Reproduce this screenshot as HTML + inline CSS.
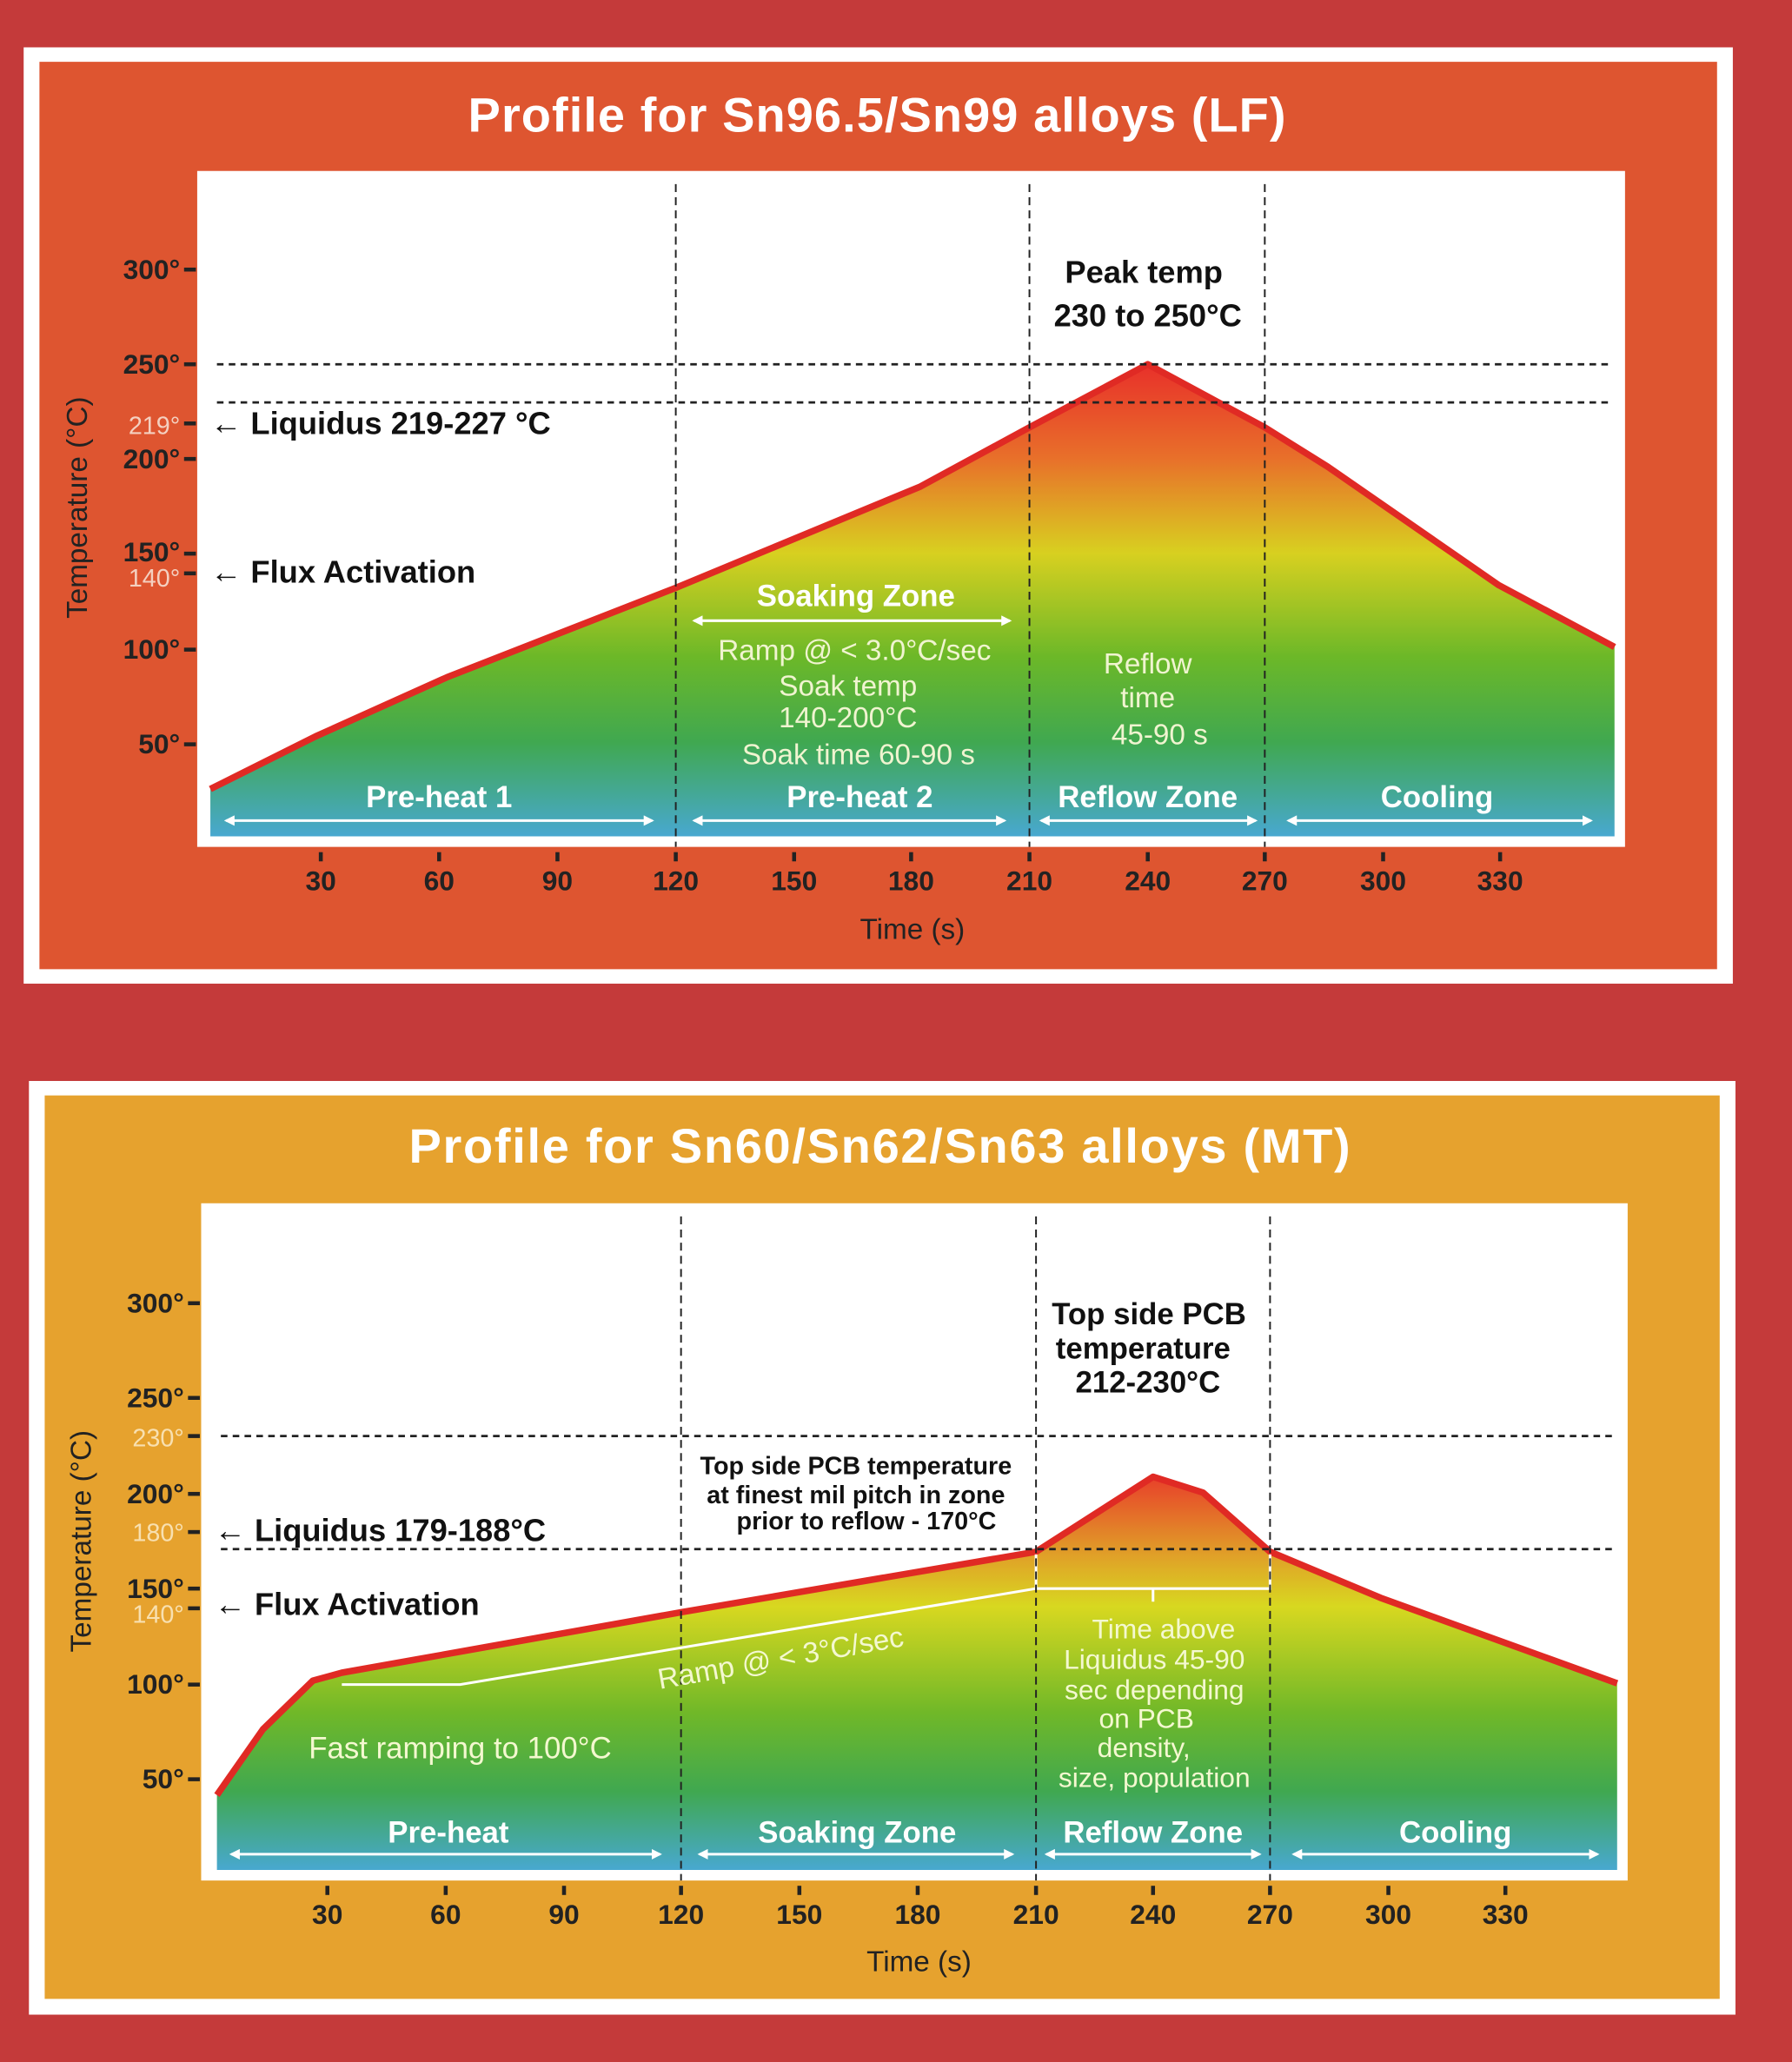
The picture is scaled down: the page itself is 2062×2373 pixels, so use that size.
<!DOCTYPE html>
<html><head><meta charset="utf-8"><style>
html,body{margin:0;padding:0;background:#c43a3a}
svg{display:block}
text{font-family:"Liberation Sans",sans-serif}
</style></head><body>
<svg width="2062" height="2373" viewBox="0 0 1363 1568" preserveAspectRatio="none" xmlns="http://www.w3.org/2000/svg">
<defs>
<linearGradient id="g1" x1="0" y1="277" x2="0" y2="636" gradientUnits="userSpaceOnUse">
<stop offset="0" stop-color="#e8302a"/><stop offset="0.2" stop-color="#e8702a"/><stop offset="0.4" stop-color="#d8d020"/><stop offset="0.62" stop-color="#6cb828"/><stop offset="0.8" stop-color="#40a850"/><stop offset="1" stop-color="#48a8d0"/>
</linearGradient>
<linearGradient id="g2" x1="0" y1="1123" x2="0" y2="1422" gradientUnits="userSpaceOnUse">
<stop offset="0" stop-color="#e8402a"/><stop offset="0.2" stop-color="#e0a028"/><stop offset="0.33" stop-color="#d8d820"/><stop offset="0.6" stop-color="#70b828"/><stop offset="0.8" stop-color="#40a850"/><stop offset="1" stop-color="#48a8d0"/>
</linearGradient>
<marker id="ah" viewBox="0 0 10 10" refX="8" refY="5" markerWidth="4" markerHeight="4" orient="auto-start-reverse"><path d="M0,0L10,5L0,10z" fill="#fff"/></marker>
</defs>
<rect width="1363" height="1568" fill="#c43a3a"/>
<!-- TOP -->
<rect x="18" y="36" width="1300" height="712" fill="#fff"/>
<rect x="30" y="47" width="1276" height="690" fill="#de5530"/>
<text x="667" y="100" text-anchor="middle" font-size="37" font-weight="bold" fill="#fff" textLength="622">Profile for Sn96.5/Sn99 alloys (LF)</text>
<rect x="150" y="130" width="1086" height="514" fill="#fff"/>
<path d="M160,600 L240,560 L340,515 L514,447 L700,370 L783,325 L873,277 L962,325 L1010,355 L1140,445 L1228,492 L1228,636 L160,636Z" fill="url(#g1)"/>
<path d="M160,600 L240,560 L340,515 L514,447 L700,370 L783,325 L873,277 L962,325 L1010,355 L1140,445 L1228,492" fill="none" stroke="#e02a24" stroke-width="5" stroke-linejoin="round"/>
<g stroke="#222" stroke-width="1.8" stroke-dasharray="5,4" fill="none">
<line x1="165" y1="277" x2="1225" y2="277"/><line x1="165" y1="306" x2="1225" y2="306"/>
</g>
<g stroke="#222" stroke-width="1.3" stroke-dasharray="6,4">
<line x1="514" y1="140" x2="514" y2="644"/><line x1="783" y1="140" x2="783" y2="644"/><line x1="962" y1="140" x2="962" y2="644"/>
</g>
<g stroke="#222" stroke-width="3">
<line x1="140" y1="205" x2="149" y2="205"/><line x1="140" y1="277" x2="149" y2="277"/><line x1="140" y1="322" x2="149" y2="322"/><line x1="140" y1="349" x2="149" y2="349"/><line x1="140" y1="421" x2="149" y2="421"/><line x1="140" y1="436" x2="149" y2="436"/><line x1="140" y1="494" x2="149" y2="494"/><line x1="140" y1="566" x2="149" y2="566"/>
</g>
<g font-size="21" fill="#222" text-anchor="end" font-weight="bold">
<text x="137" y="212">300°</text><text x="137" y="284">250°</text><text x="137" y="356">200°</text><text x="137" y="427">150°</text><text x="137" y="501">100°</text><text x="137" y="573">50°</text>
</g>
<g font-size="19" fill="#f4d0c0" text-anchor="end"><text x="137" y="330">219°</text><text x="137" y="446">140°</text></g>
<text transform="translate(66,386) rotate(-90)" text-anchor="middle" font-size="22" fill="#222">Temperature (°C)</text>
<text x="160" y="330" font-size="24" fill="#111" font-weight="bold">←  Liquidus 219-227 °C</text>
<text x="160" y="443" font-size="24" fill="#111" font-weight="bold">←  Flux Activation</text>
<g stroke="#222" stroke-width="3"><line x1="244" y1="648" x2="244" y2="655"/><line x1="334" y1="648" x2="334" y2="655"/><line x1="424" y1="648" x2="424" y2="655"/><line x1="514" y1="648" x2="514" y2="655"/><line x1="604" y1="648" x2="604" y2="655"/><line x1="693" y1="648" x2="693" y2="655"/><line x1="783" y1="648" x2="783" y2="655"/><line x1="873" y1="648" x2="873" y2="655"/><line x1="962" y1="648" x2="962" y2="655"/><line x1="1052" y1="648" x2="1052" y2="655"/><line x1="1141" y1="648" x2="1141" y2="655"/></g>
<g font-size="21" fill="#222" text-anchor="middle" font-weight="bold"><text x="244" y="677">30</text><text x="334" y="677">60</text><text x="424" y="677">90</text><text x="514" y="677">120</text><text x="604" y="677">150</text><text x="693" y="677">180</text><text x="783" y="677">210</text><text x="873" y="677">240</text><text x="962" y="677">270</text><text x="1052" y="677">300</text><text x="1141" y="677">330</text></g>
<text x="694" y="714" font-size="22" fill="#222" text-anchor="middle">Time (s)</text>
<text x="870" y="215" font-size="24" fill="#111" text-anchor="middle" font-weight="bold">Peak temp</text>
<text x="873" y="248" font-size="24" fill="#111" text-anchor="middle" font-weight="bold">230 to 250°C</text>
<g fill="#fff" font-weight="bold" font-size="23" text-anchor="middle"><text x="334" y="614">Pre-heat 1</text><text x="654" y="614">Pre-heat 2</text><text x="873" y="614">Reflow Zone</text><text x="1093" y="614">Cooling</text><text x="651" y="461">Soaking Zone</text></g>
<g stroke="#fff" stroke-width="2" marker-start="url(#ah)" marker-end="url(#ah)"><line x1="172" y1="624" x2="496" y2="624"/><line x1="528" y1="624" x2="764" y2="624"/><line x1="792" y1="624" x2="955" y2="624"/><line x1="980" y1="624" x2="1210" y2="624"/><line x1="528" y1="472" x2="768" y2="472"/></g>
<g fill="#f0f4d0" font-size="22" text-anchor="middle"><text x="650" y="502">Ramp @ &lt; 3.0°C/sec</text><text x="645" y="529">Soak temp</text><text x="645" y="553">140-200°C</text><text x="653" y="581">Soak time 60-90 s</text><text x="873" y="512">Reflow</text><text x="873" y="538">time</text><text x="882" y="566">45-90 s</text></g>
<!-- BOTTOM -->
<rect x="22" y="822" width="1298" height="710" fill="#fff"/>
<rect x="34" y="833" width="1274" height="687" fill="#e6a22e"/>
<text x="669" y="884" text-anchor="middle" font-size="37" font-weight="bold" fill="#fff" textLength="716">Profile for Sn60/Sn62/Sn63 alloys (MT)</text>
<rect x="153" y="915" width="1085" height="515" fill="#fff"/>
<path d="M165,1365 L200,1315 L238,1278 L260,1272 L518,1226 L788,1180 L877,1123 L915,1135 L966,1180 L1050,1215 L1230,1280 L1230,1422 L165,1422Z" fill="url(#g2)"/>
<path d="M165,1365 L200,1315 L238,1278 L260,1272 L518,1226 L788,1180 L877,1123 L915,1135 L966,1180 L1050,1215 L1230,1280" fill="none" stroke="#e02a24" stroke-width="5" stroke-linejoin="round"/>
<path d="M260,1281 L350,1281 L788,1208 L966,1208 L966,1182 M788,1208 L788,1182 M877,1208 L877,1218" fill="none" stroke="#fff" stroke-width="2"/>
<g stroke="#222" stroke-width="1.8" stroke-dasharray="5,4" fill="none"><line x1="168" y1="1092" x2="1228" y2="1092"/><line x1="168" y1="1178" x2="1228" y2="1178"/></g>
<g stroke="#222" stroke-width="1.3" stroke-dasharray="6,4"><line x1="518" y1="925" x2="518" y2="1430"/><line x1="788" y1="925" x2="788" y2="1430"/><line x1="966" y1="925" x2="966" y2="1430"/></g>
<g stroke="#222" stroke-width="3"><line x1="143" y1="991" x2="152" y2="991"/><line x1="143" y1="1063" x2="152" y2="1063"/><line x1="143" y1="1092" x2="152" y2="1092"/><line x1="143" y1="1136" x2="152" y2="1136"/><line x1="143" y1="1165" x2="152" y2="1165"/><line x1="143" y1="1208" x2="152" y2="1208"/><line x1="143" y1="1223" x2="152" y2="1223"/><line x1="143" y1="1281" x2="152" y2="1281"/><line x1="143" y1="1353" x2="152" y2="1353"/></g>
<g font-size="21" fill="#222" text-anchor="end" font-weight="bold"><text x="140" y="998">300°</text><text x="140" y="1070">250°</text><text x="140" y="1143">200°</text><text x="140" y="1215">150°</text><text x="140" y="1288">100°</text><text x="140" y="1360">50°</text></g>
<g font-size="19" fill="#f8e0b0" text-anchor="end"><text x="140" y="1100">230°</text><text x="140" y="1172">180°</text><text x="140" y="1234">140°</text></g>
<text transform="translate(69,1172) rotate(-90)" text-anchor="middle" font-size="22" fill="#222">Temperature (°C)</text>
<text x="163" y="1172" font-size="24" fill="#111" font-weight="bold">←  Liquidus 179-188°C</text>
<text x="163" y="1228" font-size="24" fill="#111" font-weight="bold">←  Flux Activation</text>
<g stroke="#222" stroke-width="3"><line x1="249" y1="1434" x2="249" y2="1441"/><line x1="339" y1="1434" x2="339" y2="1441"/><line x1="429" y1="1434" x2="429" y2="1441"/><line x1="518" y1="1434" x2="518" y2="1441"/><line x1="608" y1="1434" x2="608" y2="1441"/><line x1="698" y1="1434" x2="698" y2="1441"/><line x1="788" y1="1434" x2="788" y2="1441"/><line x1="877" y1="1434" x2="877" y2="1441"/><line x1="966" y1="1434" x2="966" y2="1441"/><line x1="1056" y1="1434" x2="1056" y2="1441"/><line x1="1145" y1="1434" x2="1145" y2="1441"/></g>
<g font-size="21" fill="#222" text-anchor="middle" font-weight="bold"><text x="249" y="1463">30</text><text x="339" y="1463">60</text><text x="429" y="1463">90</text><text x="518" y="1463">120</text><text x="608" y="1463">150</text><text x="698" y="1463">180</text><text x="788" y="1463">210</text><text x="877" y="1463">240</text><text x="966" y="1463">270</text><text x="1056" y="1463">300</text><text x="1145" y="1463">330</text></g>
<text x="699" y="1499" font-size="22" fill="#222" text-anchor="middle">Time (s)</text>
<g font-size="23" fill="#111" font-weight="bold"><text x="800" y="1007">Top side PCB</text><text x="803" y="1033">temperature</text><text x="818" y="1059">212-230°C</text></g>
<g font-size="19" fill="#111" font-weight="bold" text-anchor="middle"><text x="651" y="1121">Top side PCB temperature</text><text x="651" y="1143">at finest mil pitch in zone</text><text x="659" y="1163">prior to reflow - 170°C</text></g>
<text transform="translate(595,1268) rotate(-10)" font-size="22" fill="#f4f8d0" text-anchor="middle">Ramp @ &lt; 3°C/sec</text>
<text x="350" y="1337" font-size="23" fill="#f4f8d0" text-anchor="middle">Fast ramping to 100°C</text>
<g fill="#f4f8d0" font-size="21" text-anchor="middle"><text x="885" y="1246">Time above</text><text x="878" y="1269">Liquidus 45-90</text><text x="878" y="1292">sec depending</text><text x="872" y="1314">on PCB</text><text x="870" y="1336">density,</text><text x="878" y="1359">size, population</text></g>
<g fill="#fff" font-weight="bold" font-size="23" text-anchor="middle"><text x="341" y="1401">Pre-heat</text><text x="652" y="1401">Soaking Zone</text><text x="877" y="1401">Reflow Zone</text><text x="1107" y="1401">Cooling</text></g>
<g stroke="#fff" stroke-width="2" marker-start="url(#ah)" marker-end="url(#ah)"><line x1="176" y1="1410" x2="502" y2="1410"/><line x1="532" y1="1410" x2="770" y2="1410"/><line x1="796" y1="1410" x2="958" y2="1410"/><line x1="984" y1="1410" x2="1215" y2="1410"/></g>
</svg>
</body></html>
